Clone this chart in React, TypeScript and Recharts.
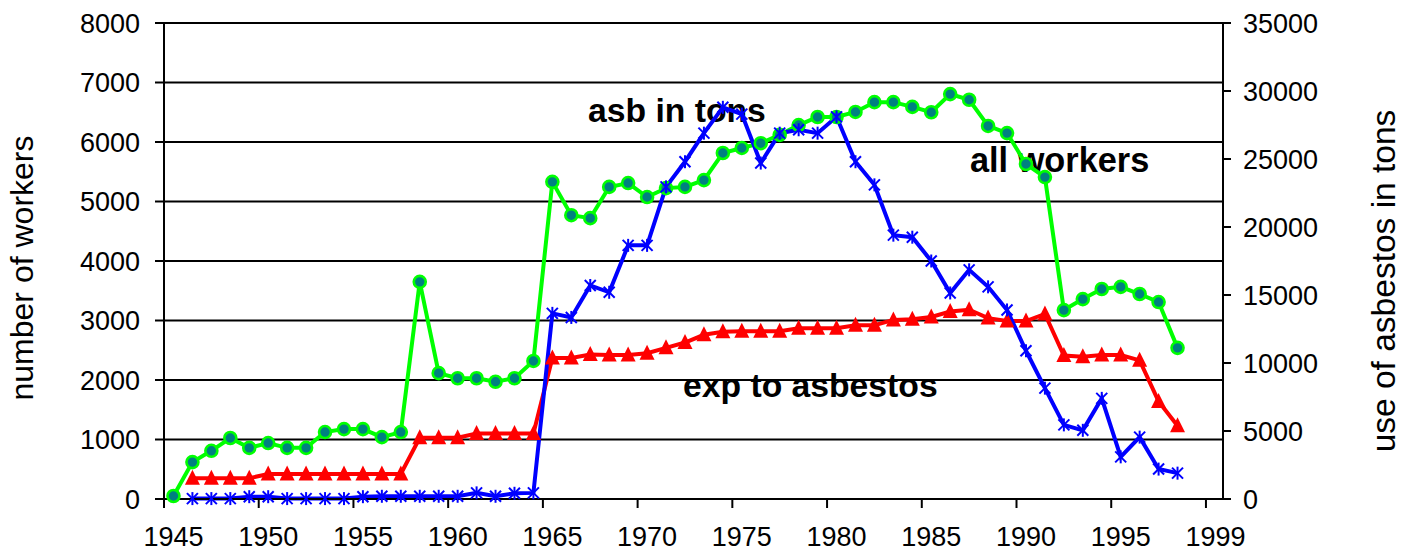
import React from "react";
import { LineChart, Line, XAxis, YAxis, CartesianGrid, Customized } from "recharts";

const YEARS = [
  1945, 1946, 1947, 1948, 1949, 1950, 1951, 1952, 1953, 1954, 1955, 1956, 1957, 1958,
  1959, 1960, 1961, 1962, 1963, 1964, 1965, 1966, 1967, 1968, 1969, 1970, 1971, 1972,
  1973, 1974, 1975, 1976, 1977, 1978, 1979, 1980, 1981, 1982, 1983, 1984, 1985, 1986,
  1987, 1988, 1989, 1990, 1991, 1992, 1993, 1994, 1995, 1996, 1997, 1998,
];

// number of workers, 1945-1998
const ALL_WORKERS = [
  50, 620, 810, 1025, 860, 940, 860, 860, 1125, 1175, 1175, 1040, 1125, 3650,
  2115, 2030, 2030, 1970, 2030, 2320, 5330, 4770, 4720, 5245, 5310, 5075, 5225, 5245,
  5360, 5815, 5900, 5980, 6120, 6285, 6420, 6420, 6505, 6670, 6670, 6590, 6500, 6805,
  6710, 6270, 6150, 5630, 5410, 3175, 3360, 3530, 3565, 3445, 3310, 2540,
];

// workers exposed to asbestos, 1946-1998
const EXPOSED = [
  350, 350, 350, 350, 420, 420, 420, 420, 420, 420, 420, 420, 1030,
  1030, 1030, 1100, 1100, 1100, 1100, 2370, 2370, 2430, 2420, 2420, 2450, 2540, 2630,
  2760, 2810, 2820, 2820, 2820, 2870, 2870, 2870, 2920, 2920, 3010, 3020, 3060, 3150,
  3180, 3040, 2990, 2990, 3110, 2410, 2390, 2420, 2420, 2330, 1640, 1230,
];

// asbestos used in tons, 1946-1998
const ASBESTOS_TONS = [
  30, 30, 30, 170, 170, 30, 30, 30, 30, 170, 200, 200, 200,
  200, 200, 450, 200, 420, 450, 13650, 13350, 15700, 15200, 18650, 18650, 22950, 24800,
  26900, 28800, 28300, 24700, 26900, 27150, 26900, 28100, 24800, 23100, 19400, 19250, 17500, 15150,
  16850, 15600, 13900, 10900, 8150, 5450, 5050, 7400, 3100, 4550, 2200, 1900,
];

const X_TICKS = [1944.5, 1949.5, 1954.5, 1959.5, 1964.5, 1969.5, 1974.5, 1979.5, 1984.5, 1989.5, 1994.5, 1999.5];
const X_LABELS = ["1945", "1950", "1955", "1960", "1965", "1970", "1975", "1980", "1985", "1990", "1995", "1999"];
const LEFT_TICKS = [0, 1000, 2000, 3000, 4000, 5000, 6000, 7000, 8000];
const RIGHT_TICKS = [0, 5000, 10000, 15000, 20000, 25000, 30000, 35000];

const workersData = YEARS.map((year, i) => ({ year, value: ALL_WORKERS[i] }));
const exposedData = YEARS.slice(1).map((year, i) => ({ year, value: EXPOSED[i] }));
const tonsData = YEARS.slice(1).map((year, i) => ({ year, value: ASBESTOS_TONS[i] }));

const FONT = "'Liberation Sans', Arial, sans-serif";

function XTick(props: any) {
  const { x, payload } = props;
  const idx = X_TICKS.indexOf(payload.value);
  return (
    <text x={x + 9.5} y={546} textAnchor="middle" fontSize={27} fill="#000">
      {X_LABELS[idx]}
    </text>
  );
}

function Triangle(props: any) {
  const { cx, cy } = props;
  if (cx == null || cy == null) return <g />;
  return <polygon points={`${cx},${cy - 8.5} ${cx - 7.5},${cy + 6.5} ${cx + 7.5},${cy + 6.5}`} fill="#ff0000" />;
}

function Star(props: any) {
  const { cx, cy } = props;
  if (cx == null || cy == null) return <g />;
  const s = 5.5;
  return (
    <g stroke="#0000ff" strokeWidth={2}>
      <line x1={cx - s} y1={cy - s} x2={cx + s} y2={cy + s} />
      <line x1={cx - s} y1={cy + s} x2={cx + s} y2={cy - s} />
      <line x1={cx} y1={cy - s - 1} x2={cx} y2={cy + s + 1} />
    </g>
  );
}

function Annotations() {
  return (
    <g fontFamily={FONT} fill="#000">
      <text x={588} y={122} fontSize={33.7} fontWeight="bold">asb in tons</text>
      <text x={970} y={172} fontSize={34.3} fontWeight="bold">all workers</text>
      <text x={683} y={397} fontSize={33.7} fontWeight="bold">exp to asbestos</text>
      <text x={33} y={268} fontSize={32} textAnchor="middle" transform="rotate(-90 33 268)">
        number of workers
      </text>
      <text x={1395} y={281} fontSize={33.5} textAnchor="middle" transform="rotate(-90 1395 281)">
        use of asbestos in tons
      </text>
    </g>
  );
}

export default function App() {
  return (
    <div style={{ position: "absolute", left: 0, top: 0, fontFamily: FONT, background: "#fff" }}>
      <LineChart width={1402} height={553} margin={{ top: 23, right: 0, left: 0, bottom: 0 }}>
        <CartesianGrid yAxisId="left" vertical={false} stroke="#000" strokeWidth={2} strokeOpacity={1} />
        <XAxis
          dataKey="year"
          type="number"
          domain={[1944.5, 2000.4]}
          ticks={X_TICKS}
          interval={0}
          height={54}
          allowDuplicatedCategory={false}
          tick={<XTick />}
          tickSize={9}
          axisLine={{ stroke: "#000", strokeWidth: 2 }}
          tickLine={{ stroke: "#000", strokeWidth: 2 }}
        />
        <YAxis
          yAxisId="left"
          domain={[0, 8000]}
          ticks={LEFT_TICKS}
          interval={0}
          width={164}
          tickSize={9}
          tickMargin={15}
          tick={{ fontSize: 27, fill: "#000" }}
          axisLine={{ stroke: "#000", strokeWidth: 2 }}
          tickLine={{ stroke: "#000", strokeWidth: 2 }}
        />
        <YAxis
          yAxisId="right"
          orientation="right"
          domain={[0, 35000]}
          ticks={RIGHT_TICKS}
          interval={0}
          width={179}
          tickSize={8}
          tickMargin={12}
          tick={{ fontSize: 27, fill: "#000" }}
          axisLine={{ stroke: "#000", strokeWidth: 2 }}
          tickLine={{ stroke: "#000", strokeWidth: 2 }}
        />
        <Line
          yAxisId="left"
          data={workersData}
          dataKey="value"
          stroke="#00ff00"
          strokeWidth={4}
          dot={{ r: 6, fill: "#008080", stroke: "#00ff00", strokeWidth: 2.6 }}
          isAnimationActive={false}
        />
        <Line
          yAxisId="left"
          data={exposedData}
          dataKey="value"
          stroke="#ff0000"
          strokeWidth={4}
          dot={<Triangle />}
          isAnimationActive={false}
        />
        <Line
          yAxisId="right"
          data={tonsData}
          dataKey="value"
          stroke="#0000ff"
          strokeWidth={4}
          dot={<Star />}
          isAnimationActive={false}
        />
        <Customized component={<Annotations />} />
      </LineChart>
    </div>
  );
}
